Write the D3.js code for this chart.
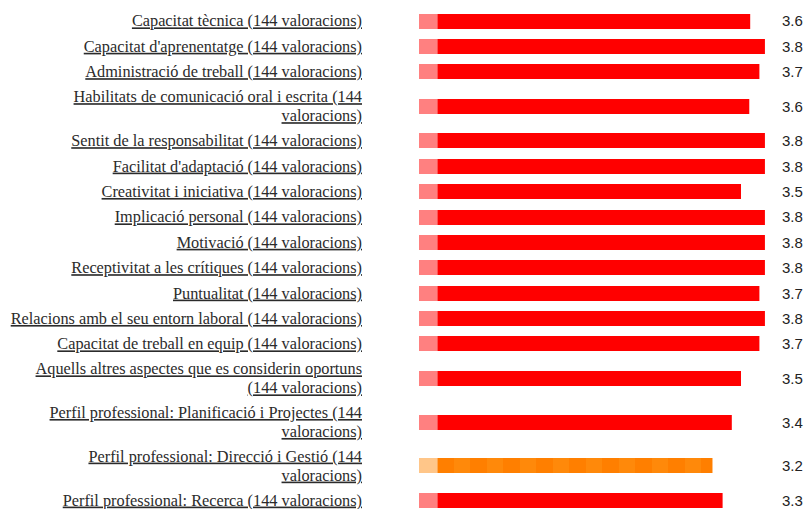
<!DOCTYPE html>
<html>
<head>
<meta charset="utf-8">
<script src="https://cdn.jsdelivr.net/npm/d3@7"></script>
<style>
  body { margin: 0; background: #fff; }
</style>
</head>
<body>
<div id="chart"></div>
<script>
(function(d3) {

// items rated and their average score
var items = [
  "Capacitat tècnica",
  "Capacitat d'aprenentatge",
  "Administració de treball",
  "Habilitats de comunicació oral i escrita",
  "Sentit de la responsabilitat",
  "Facilitat d'adaptació",
  "Creativitat i iniciativa",
  "Implicació personal",
  "Motivació",
  "Receptivitat a les crítiques",
  "Puntualitat",
  "Relacions amb el seu entorn laboral",
  "Capacitat de treball en equip",
  "Aquells altres aspectes que es considerin oportuns",
  "Perfil professional: Planificació i Projectes",
  "Perfil professional: Direcció i Gestió",
  "Perfil professional: Recerca"
];
var scores = [3.6, 3.76, 3.7, 3.59, 3.76, 3.76, 3.5, 3.76, 3.76, 3.76, 3.7, 3.76, 3.7, 3.5, 3.4, 3.19, 3.3];
var ratings = [144, 144, 144, 144, 144, 144, 144, 144, 144, 144, 144, 144, 144, 144, 144, 144, 144];

var width = 804,
    height = 509,
    labelRight = 362,
    wrapWidth = 355,
    lineH = 19,
    singleRow = 25.4,
    extraLine = 18.2,
    barH = 15,
    stripe = 16.5;

var x = d3.scaleLinear().domain([0, 4]).range([419, 787]);

var svg = d3.select('#chart')
  .append('svg')
  .attr('width', width)
  .attr('height', height);

// build the labels first so we know how many lines each one takes
var labelG = svg.append('g');
var texts = items.map(function(name, i) {
  var full = name + ' (' + ratings[i] + ' valoracions)';
  var t = labelG.append('text')
    .attr('text-anchor', 'end')
    .style('font-family', '"Liberation Serif", "Times New Roman", serif')
    .style('font-size', '16.3px')
    .style('fill', '#2b2b2b')
    .style('text-decoration', 'underline');
  var words = full.split(' '), line = [], lines = [];
  var probe = t.append('tspan');
  words.forEach(function(w) {
    line.push(w);
    probe.text(line.join(' '));
    if (probe.node().getComputedTextLength() > wrapWidth && line.length > 1) {
      line.pop();
      lines.push(line.join(' '));
      line = [w];
    }
  });
  lines.push(line.join(' '));
  probe.remove();
  return { node: t, lines: lines };
});

// row positions from the line counts
var top = 8.3;
var centres = texts.map(function(d) {
  var h = singleRow + extraLine * (d.lines.length - 1);
  var c = top + h / 2;
  top += h;
  return c;
});

texts.forEach(function(d, i) {
  var y0 = centres[i] - (d.lines.length - 1) * lineH / 2;
  d.lines.forEach(function(l, j) {
    d.node.append('tspan')
      .attr('x', labelRight)
      .attr('y', y0 + j * lineH)
      .attr('dy', '0.33em')
      .text(l);
  });
});

var low = function(v) { return v < 3.25; };
var barY = function(d) { return Math.round(centres[d.i] - barH / 2); };

var rows = svg.selectAll('g.row')
  .data(scores.map(function(v, i) { return { v: v, i: i }; }))
  .enter()
  .append('g')
  .attr('class', 'row');

rows.append('rect')
  .attr('x', x(0))
  .attr('y', barY)
  .attr('width', x(0.2) - x(0))
  .attr('height', barH)
  .attr('fill', function(d) { return low(d.v) ? '#ffc689' : '#ff8080'; });

rows.append('rect')
  .attr('x', x(0.2))
  .attr('y', barY)
  .attr('width', function(d) { return x(d.v) - x(0.2); })
  .attr('height', barH)
  .attr('fill', function(d) { return low(d.v) ? '#ff7f00' : '#ff0000'; });

// faint alternate stripes on the low-score bar
rows.filter(function(d) { return low(d.v); })
  .each(function(d) {
    var x0 = x(0.2), x1 = x(d.v);
    d3.select(this).selectAll('rect.stripe')
      .data(d3.range(x0 + stripe, x1, stripe * 2))
      .enter()
      .append('rect')
      .attr('class', 'stripe')
      .attr('x', function(s) { return Math.round(s); })
      .attr('y', barY(d))
      .attr('width', function(s) { return Math.round(Math.min(s + stripe, x1)) - Math.round(s); })
      .attr('height', barH)
      .attr('fill', '#ff890a');
  });

rows.append('text')
  .attr('x', 782)
  .attr('y', function(d) { return centres[d.i]; })
  .attr('dy', '0.36em')
  .style('font-family', '"Liberation Sans", Arial, sans-serif')
  .style('font-size', '15px')
  .style('fill', '#222')
  .text(function(d) { return d3.format('.1f')(d.v); });

})(window.d3);
</script>
</body>
</html>
